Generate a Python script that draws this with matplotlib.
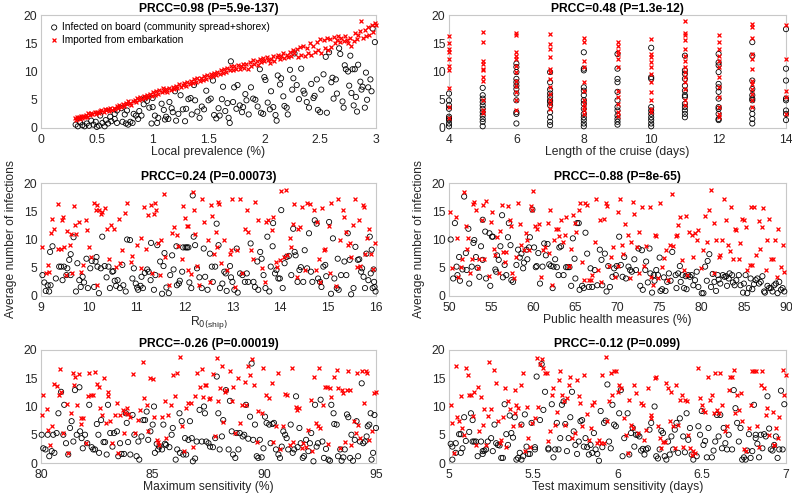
import numpy as np
import matplotlib.pyplot as plt

plt.rcParams['font.family'] = ['Liberation Sans', 'DejaVu Sans']

# ---- data (x, average number of infections) ----
# panel 1: local prevalence (%)
prev_board = np.array([
    (0.31, 0.6), (0.33, 0.3), (0.35, 1.0), (0.37, 0.5), (0.39, 0.3), (0.41, 0.8), (0.43, 0.4), (0.45, 1.3),
    (0.47, 0.6), (0.49, 1.1), (0.50, 0.2), (0.52, 0.4), (0.53, 2.2), (0.55, 0.9), (0.57, 0.3), (0.58, 1.4),
    (0.60, 0.8), (0.62, 2.0), (0.63, 1.2), (0.66, 2.5), (0.66, 1.6), (0.68, 0.9), (0.68, 3.1), (0.72, 3.5),
    (0.73, 1.1), (0.75, 2.4), (0.76, 0.8), (0.77, 3.1), (0.78, 0.6), (0.80, 1.1), (0.82, 0.9), (0.83, 2.5),
    (0.85, 2.2), (0.87, 1.6), (0.88, 3.0), (0.90, 2.2), (0.92, 4.2), (0.93, 5.2), (0.95, 4.8), (0.97, 3.6),
    (0.99, 0.8), (1.00, 5.3), (1.00, 3.7), (1.02, 2.2), (1.04, 0.9), (1.05, 1.8), (1.08, 4.3), (1.10, 3.2),
    (1.11, 1.5), (1.12, 2.0), (1.14, 1.6), (1.15, 4.6), (1.17, 3.5), (1.18, 2.8), (1.20, 6.5), (1.21, 1.3),
    (1.23, 2.5), (1.25, 5.8), (1.27, 3.3), (1.29, 1.2), (1.30, 3.4), (1.32, 5.1), (1.34, 5.3), (1.35, 2.4),
    (1.37, 7.6), (1.38, 4.9), (1.40, 2.9), (1.42, 1.8), (1.44, 3.8), (1.46, 3.3), (1.48, 6.6), (1.50, 4.9),
    (1.52, 5.2), (1.54, 8.4), (1.55, 2.3), (1.57, 1.7), (1.59, 3.5), (1.60, 2.2), (1.62, 5.1), (1.63, 7.3),
    (1.65, 3.0), (1.67, 4.4), (1.68, 1.8), (1.69, 0.9), (1.70, 11.8), (1.72, 4.6), (1.73, 7.2), (1.75, 3.4),
    (1.76, 7.6), (1.78, 4.0), (1.80, 2.8), (1.81, 3.7), (1.83, 6.0), (1.84, 4.9), (1.86, 2.4), (1.88, 7.2),
    (1.90, 5.2), (1.92, 5.0), (1.94, 3.8), (1.96, 10.4), (1.97, 2.7), (1.99, 2.5), (2.00, 9.0), (2.01, 8.5),
    (2.03, 4.5), (2.05, 3.3), (2.06, 6.5), (2.08, 3.7), (2.10, 2.3), (2.11, 1.3), (2.12, 9.3), (2.14, 7.7),
    (2.15, 8.8), (2.17, 5.6), (2.18, 3.9), (2.20, 3.6), (2.21, 2.4), (2.23, 10.3), (2.25, 6.8), (2.26, 8.8),
    (2.27, 13.2), (2.29, 7.6), (2.31, 5.1), (2.33, 10.5), (2.35, 6.6), (2.36, 6.1), (2.38, 4.6), (2.40, 3.6),
    (2.42, 7.8), (2.44, 5.3), (2.45, 5.7), (2.47, 8.6), (2.48, 3.2), (2.50, 2.8), (2.51, 6.8), (2.53, 9.5),
    (2.55, 12.6), (2.56, 2.7), (2.58, 13.4), (2.60, 8.1), (2.61, 8.9), (2.62, 5.2), (2.64, 8.6), (2.65, 6.1),
    (2.67, 14.1), (2.68, 13.1), (2.70, 4.7), (2.71, 3.6), (2.72, 11.1), (2.73, 10.4), (2.75, 10.0), (2.76, 7.5),
    (2.77, 12.8), (2.78, 6.2), (2.79, 10.4), (2.80, 4.0), (2.81, 10.4), (2.82, 5.5), (2.83, 2.9), (2.84, 11.2),
    (2.86, 8.2), (2.87, 6.8), (2.88, 7.3), (2.90, 3.6), (2.91, 9.8), (2.92, 5.0), (2.93, 7.2), (2.95, 8.6),
    (2.96, 6.5), (2.97, 17.6), (2.99, 15.2),
])
prev_imported = np.array([
    (0.30, 1.8), (0.31, 1.5), (0.32, 2.0), (0.33, 1.7), (0.34, 1.9), (0.35, 1.6), (0.36, 2.1), (0.37, 1.8),
    (0.38, 2.2), (0.39, 1.9), (0.40, 2.3), (0.41, 2.0), (0.42, 2.6), (0.44, 2.3), (0.45, 2.7), (0.46, 2.5),
    (0.48, 2.8), (0.49, 2.4), (0.50, 2.9), (0.52, 2.6), (0.53, 3.0), (0.54, 3.2), (0.56, 2.9), (0.57, 3.3),
    (0.58, 3.1), (0.60, 3.4), (0.61, 3.0), (0.62, 3.5), (0.64, 3.2), (0.65, 3.6), (0.66, 3.3), (0.68, 3.9),
    (0.69, 3.6), (0.70, 4.1), (0.72, 3.8), (0.73, 4.3), (0.74, 3.9), (0.76, 4.5), (0.77, 4.2), (0.78, 4.8),
    (0.80, 4.4), (0.81, 4.1), (0.82, 4.7), (0.84, 5.0), (0.85, 4.6), (0.86, 5.3), (0.88, 4.9), (0.89, 5.5),
    (0.90, 5.1), (0.92, 5.7), (0.93, 5.3), (0.95, 5.9), (0.96, 5.5), (0.98, 6.1), (0.99, 5.6), (1.00, 6.3),
    (1.02, 5.9), (1.03, 6.5), (1.05, 6.1), (1.06, 6.8), (1.08, 6.3), (1.09, 7.0), (1.10, 6.5), (1.12, 6.9),
    (1.13, 6.4), (1.15, 7.1), (1.16, 6.7), (1.18, 7.3), (1.19, 6.9), (1.21, 7.4), (1.22, 7.0), (1.24, 7.8),
    (1.25, 7.3), (1.27, 7.6), (1.28, 7.9), (1.30, 7.4), (1.31, 8.2), (1.33, 7.8), (1.34, 8.4), (1.36, 8.0),
    (1.37, 8.6), (1.39, 8.1), (1.40, 8.8), (1.42, 8.3), (1.43, 8.9), (1.45, 8.5), (1.46, 9.2), (1.48, 8.7),
    (1.49, 9.4), (1.51, 9.0), (1.52, 9.6), (1.54, 9.2), (1.55, 9.8), (1.57, 9.4), (1.58, 10.0), (1.60, 9.6),
    (1.61, 10.3), (1.63, 9.7), (1.64, 10.5), (1.66, 10.0), (1.67, 10.7), (1.69, 10.2), (1.70, 10.9), (1.72, 10.3),
    (1.73, 11.0), (1.75, 10.5), (1.76, 11.2), (1.78, 10.4), (1.79, 10.9), (1.81, 11.4), (1.82, 10.7), (1.84, 11.3),
    (1.85, 10.5), (1.87, 11.6), (1.88, 11.0), (1.90, 12.0), (1.91, 11.4), (1.93, 11.9), (1.94, 11.2), (1.96, 12.2),
    (1.97, 11.6), (1.99, 12.4), (2.00, 11.8), (2.02, 12.6), (2.03, 12.0), (2.05, 11.5), (2.06, 12.3), (2.08, 12.8),
    (2.09, 11.9), (2.11, 12.5), (2.12, 13.0), (2.14, 12.2), (2.15, 12.7), (2.17, 13.3), (2.18, 12.4), (2.20, 13.0),
    (2.21, 12.6), (2.23, 13.5), (2.24, 12.8), (2.26, 13.8), (2.27, 13.2), (2.29, 14.0), (2.30, 12.5), (2.32, 14.3),
    (2.33, 13.0), (2.35, 14.6), (2.36, 12.8), (2.38, 14.2), (2.39, 13.2), (2.41, 15.0), (2.42, 12.9), (2.44, 14.5),
    (2.45, 13.4), (2.47, 15.2), (2.48, 13.8), (2.50, 15.8), (2.51, 13.3), (2.53, 15.5), (2.54, 14.1), (2.56, 16.0),
    (2.57, 13.8), (2.59, 15.7), (2.60, 14.4), (2.62, 16.1), (2.63, 15.0), (2.65, 15.6), (2.66, 16.3), (2.68, 15.2),
    (2.69, 15.9), (2.71, 15.4), (2.72, 16.2), (2.74, 15.5), (2.75, 15.0), (2.77, 16.0), (2.78, 14.6), (2.80, 15.4),
    (2.81, 16.8), (2.83, 15.8), (2.84, 16.5), (2.86, 17.2), (2.87, 18.9), (2.88, 15.9), (2.90, 17.4), (2.91, 16.2),
    (2.93, 17.9), (2.94, 16.5), (2.96, 18.3), (2.97, 17.0), (2.99, 18.5), (3.00, 18.2),
])

# panel 2: length of the cruise (days)
cruise_board = np.array([
    (4, 6.1), (4, 4.9), (4, 4.0), (4, 3.4), (4, 2.0), (4, 1.7), (4, 1.4), (4, 0.8), (4, 0.3),
    (5, 7.1), (5, 5.8), (5, 5.2), (5, 4.6), (5, 4.0), (5, 3.4), (5, 2.8), (5, 2.2), (5, 1.6), (5, 1.1), (5, 0.3),
    (6, 11.4), (6, 10.8), (6, 9.9), (6, 8.7), (6, 8.1), (6, 7.5), (6, 6.9), (6, 6.1), (6, 4.9), (6, 2.8), (6, 2.5), (6, 0.8),
    (7, 9.9), (7, 8.1), (7, 6.8), (7, 6.1), (7, 5.5), (7, 4.9), (7, 4.6), (7, 4.0), (7, 2.8), (7, 1.9), (7, 1.1), (7, 0.5),
    (8, 13.4), (8, 10.5), (8, 10.2), (8, 7.2), (8, 6.6), (8, 5.8), (8, 4.9), (8, 4.3), (8, 3.4), (8, 2.5), (8, 1.9),
    (8, 1.4), (8, 0.8), (8, 0.3),
    (9, 13.1), (9, 10.5), (9, 8.7), (9, 8.1), (9, 6.4), (9, 4.9), (9, 3.7), (9, 3.1), (9, 2.2), (9, 1.6), (9, 1.1), (9, 0.6),
    (10, 14.2), (10, 9.0), (10, 8.7), (10, 3.7), (10, 3.1), (10, 2.5), (10, 1.9), (10, 1.4), (10, 0.8), (10, 0.3),
    (11, 12.8), (11, 10.2), (11, 9.6), (11, 8.7), (11, 7.5), (11, 6.6), (11, 5.8), (11, 5.5), (11, 4.3), (11, 3.7),
    (11, 3.1), (11, 2.5), (11, 1.9),
    (12, 13.1), (12, 11.6), (12, 11.1), (12, 9.9), (12, 7.8), (12, 7.2), (12, 6.4), (12, 5.2), (12, 3.7), (12, 3.4),
    (12, 2.5), (12, 1.6), (12, 1.4),
    (13, 15.2), (13, 12.8), (13, 8.4), (13, 6.9), (13, 5.8), (13, 5.2), (13, 4.9), (13, 3.4), (13, 2.5), (13, 1.6), (13, 0.8),
    (14, 17.5), (14, 10.5), (14, 8.4), (14, 5.2), (14, 4.9), (14, 3.1), (14, 2.5), (14, 1.4),
])
cruise_imported = np.array([
    (4, 16.2), (4, 15.0), (4, 14.0), (4, 13.4), (4, 12.2), (4, 11.0), (4, 10.2), (4, 7.1), (4, 3.8), (4, 1.8),
    (5, 17.0), (5, 15.2), (5, 11.8), (5, 11.4), (5, 10.5), (5, 10.2), (5, 9.0), (5, 8.4), (5, 4.9), (5, 3.1), (5, 2.6),
    (6, 16.8), (6, 16.5), (6, 13.4), (6, 12.8), (6, 12.2), (6, 11.0), (6, 9.9), (6, 8.4), (6, 7.5), (6, 6.4),
    (6, 4.9), (6, 3.1),
    (7, 16.6), (7, 14.9), (7, 14.0), (7, 12.5), (7, 10.5), (7, 9.9), (7, 8.7), (7, 7.2), (7, 6.1), (7, 4.9),
    (7, 4.3), (7, 3.4),
    (8, 15.9), (8, 15.2), (8, 11.9), (8, 10.8), (8, 8.1), (8, 6.6), (8, 4.9), (8, 4.3), (8, 3.7), (8, 3.1), (8, 2.5),
    (9, 15.2), (9, 14.6), (9, 13.7), (9, 13.1), (9, 12.2), (9, 10.8), (9, 6.6), (9, 5.5), (9, 4.3), (9, 2.8), (9, 2.2),
    (10, 15.8), (10, 13.1), (10, 12.5), (10, 11.6), (10, 10.8), (10, 9.6), (10, 8.1), (10, 6.4), (10, 4.9),
    (10, 3.4), (10, 2.8),
    (11, 18.9), (11, 16.9), (11, 16.4), (11, 15.5), (11, 14.0), (11, 12.8), (11, 11.9), (11, 10.8), (11, 9.9),
    (11, 9.0), (11, 8.1), (11, 6.9), (11, 4.9), (11, 4.0),
    (12, 16.4), (12, 15.2), (12, 14.0), (12, 12.8), (12, 11.9), (12, 10.8), (12, 9.0), (12, 7.2), (12, 5.5),
    (12, 3.7), (12, 2.5), (12, 1.9),
    (13, 18.4), (13, 17.8), (13, 15.9), (13, 13.1), (13, 12.2), (13, 10.5), (13, 8.4), (13, 7.8), (13, 6.9),
    (13, 6.1), (13, 4.9), (13, 3.7),
    (14, 18.3), (14, 12.2), (14, 6.6), (14, 5.5), (14, 2.5),
])

# panel 3: R0(ship)
r0_board = np.array([
    (9.03, 3.7), (9.07, 2.4), (9.10, 0.9), (9.14, 1.9), (9.17, 0.8), (9.20, 1.9), (9.19, 7.8), (9.24, 8.8),
    (9.31, 3.1), (9.38, 5.2), (9.42, 5.2), (9.45, 2.8), (9.48, 5.2), (9.53, 3.7), (9.55, 4.9), (9.59, 6.4),
    (9.62, 7.4), (9.62, 3.7), (9.68, 10.4), (9.73, 0.8), (9.76, 5.8), (9.80, 2.8), (9.83, 1.6), (9.87, 3.4),
    (9.90, 2.4), (9.95, 6.6), (9.98, 1.4), (10.03, 4.9), (10.06, 6.2), (10.11, 1.6), (10.14, 6.1), (10.16, 6.9),
    (10.18, 5.2), (10.21, 0.5), (10.25, 4.9), (10.28, 10.5), (10.33, 5.3), (10.37, 3.3), (10.41, 5.2), (10.44, 1.4),
    (10.49, 4.3), (10.51, 4.4), (10.54, 2.7), (10.57, 1.8), (10.60, 2.8), (10.65, 1.4), (10.70, 5.5), (10.72, 1.9),
    (10.77, 0.8), (10.80, 10.0), (10.86, 9.9), (10.91, 3.1), (10.94, 4.9), (10.98, 2.2), (11.01, 1.5), (11.03, 1.1),
    (11.08, 1.8), (11.10, 3.4), (11.13, 1.4), (11.17, 4.1), (11.22, 4.7), (11.25, 4.3), (11.29, 2.8), (11.30, 9.4),
    (11.36, 1.1), (11.39, 3.7), (11.43, 9.0), (11.49, 6.1), (11.53, 0.4), (11.56, 5.3), (11.58, 7.6), (11.62, 1.5),
    (11.67, 0.5), (11.70, 3.7), (11.74, 7.2), (11.77, 4.7), (11.83, 8.8), (11.84, 1.9), (11.88, 2.2), (11.90, 2.7),
    (11.95, 4.3), (11.97, 8.6), (12.02, 8.6), (12.05, 8.6), (12.08, 8.6), (12.10, 2.4), (12.14, 1.4), (12.17, 17.8),
    (12.19, 10.5), (12.22, 9.0), (12.26, 4.9), (12.31, 3.3), (12.36, 1.4), (12.40, 8.4), (12.43, 3.4), (12.48, 1.1),
    (12.53, 7.5), (12.57, 5.2), (12.59, 2.5), (12.64, 5.2), (12.67, 12.8), (12.71, 9.0), (12.74, 1.4), (12.79, 2.2),
    (12.83, 4.3), (12.86, 4.0), (12.88, 0.9), (12.95, 5.3), (12.97, 3.3), (13.00, 2.5), (13.04, 1.1), (13.09, 8.4),
    (13.11, 0.6), (13.16, 4.0), (13.21, 3.7), (13.26, 2.5), (13.30, 4.0), (13.33, 2.5), (13.38, 9.3), (13.44, 2.5),
    (13.47, 1.6), (13.52, 6.1), (13.54, 1.1), (13.58, 7.8), (13.61, 6.6), (13.65, 3.7), (13.69, 1.4), (13.73, 10.5),
    (13.77, 0.8), (13.80, 5.2), (13.84, 8.8), (13.85, 12.9), (13.89, 4.0), (13.92, 4.6), (13.96, 3.1), (13.99, 3.1),
    (14.02, 15.2), (14.05, 1.4), (14.09, 5.8), (14.13, 6.9), (14.18, 7.1), (14.23, 3.7), (14.27, 11.9), (14.30, 7.8),
    (14.32, 7.2), (14.36, 2.5), (14.40, 4.6), (14.43, 5.1), (14.48, 2.5), (14.51, 8.1), (14.56, 4.9), (14.60, 11.1),
    (14.64, 4.3), (14.67, 2.5), (14.72, 13.4), (14.76, 12.8), (14.79, 3.1), (14.83, 2.5), (14.86, 1.6), (14.90, 5.2),
    (14.94, 5.5), (14.96, 3.5), (15.02, 13.1), (15.06, 0.4), (15.10, 10.2), (15.13, 3.1), (15.18, 1.4), (15.20, 6.6),
    (15.22, 1.1), (15.27, 3.7), (15.34, 6.1), (15.38, 3.7), (15.41, 11.1), (15.45, 6.4), (15.48, 0.3), (15.53, 1.4),
    (15.57, 8.7), (15.62, 6.4), (15.65, 6.5), (15.69, 4.3), (15.71, 4.9), (15.74, 3.4), (15.77, 1.4), (15.80, 7.5),
    (15.84, 2.8), (15.87, 10.5), (15.89, 4.0), (15.93, 1.4), (15.91, 8.2), (15.95, 4.7), (15.97, 1.6), (15.99, 0.8),
    (15.96, 2.5),
])
r0_imported = np.array([
    (9.03, 8.6), (9.10, 4.0), (9.14, 5.5), (9.20, 11.1), (9.17, 4.3), (9.24, 13.7), (9.28, 11.9), (9.35, 8.4),
    (9.36, 16.2), (9.42, 8.4), (9.45, 14.0), (9.44, 13.4), (9.48, 8.6), (9.52, 3.7), (9.55, 11.5), (9.60, 9.0),
    (9.62, 10.9), (9.64, 4.1), (9.68, 16.0), (9.71, 12.5), (9.74, 10.9), (9.80, 13.1), (9.83, 4.3), (9.87, 5.5),
    (9.94, 13.4), (9.97, 11.6), (10.00, 8.7), (10.04, 6.9), (10.11, 16.4), (10.14, 15.3), (10.18, 16.1), (10.21, 15.2),
    (10.25, 14.6), (10.28, 14.9), (10.33, 15.5), (10.37, 11.9), (10.18, 1.9), (10.42, 6.6), (10.46, 12.5), (10.52, 11.8),
    (10.56, 5.2), (10.63, 13.7), (10.65, 5.8), (10.70, 8.1), (10.75, 14.7), (10.80, 16.5), (10.89, 6.1), (10.91, 7.1),
    (11.01, 9.0), (11.08, 10.2), (11.09, 4.9), (11.15, 15.8), (11.20, 8.4), (11.24, 14.3), (11.29, 16.1), (11.32, 4.0),
    (11.36, 14.6), (11.39, 16.4), (11.41, 15.3), (11.45, 9.4), (11.48, 3.7), (11.51, 10.0), (11.56, 18.0), (11.60, 6.9),
    (11.67, 1.9), (11.74, 11.1), (11.77, 12.2), (11.84, 10.8), (11.86, 8.8), (11.95, 6.6), (11.97, 15.9), (12.00, 13.8),
    (12.05, 12.4), (12.08, 12.4), (12.08, 4.6), (12.13, 3.9), (12.17, 18.4), (12.19, 15.3), (12.22, 10.9), (12.26, 5.3),
    (12.31, 1.9), (12.36, 17.1), (12.41, 13.1), (12.48, 10.0), (12.53, 2.5), (12.56, 16.1), (12.58, 14.1), (12.61, 7.4),
    (12.66, 11.4), (12.67, 8.7), (12.69, 16.6), (12.71, 16.2), (12.76, 5.8), (12.83, 9.9), (12.88, 4.6), (12.95, 7.5),
    (12.98, 8.1), (13.00, 17.2), (13.05, 1.6), (13.10, 8.2), (13.16, 17.2), (13.21, 4.0), (13.26, 11.9), (13.30, 15.2),
    (13.33, 11.4), (13.38, 8.1), (13.44, 6.6), (13.47, 16.6), (13.54, 13.5), (13.61, 4.9), (13.68, 2.5), (13.71, 13.1),
    (13.75, 13.5), (13.82, 11.6), (13.85, 14.0), (13.91, 6.1), (13.94, 5.2), (13.99, 6.4), (14.02, 18.6), (14.07, 6.9),
    (14.11, 18.8), (14.14, 7.2), (14.20, 10.2), (14.23, 8.7), (14.27, 12.8), (14.29, 16.2), (14.35, 3.3), (14.38, 11.9),
    (14.42, 12.2), (14.46, 15.8), (14.51, 4.6), (14.56, 16.4), (14.63, 16.2), (14.70, 15.3), (14.74, 4.6), (14.77, 13.1),
    (14.81, 6.5), (14.84, 2.5), (14.88, 15.5), (14.91, 8.1), (14.94, 8.4), (15.02, 12.4), (15.03, 4.0), (15.06, 16.4),
    (15.17, 1.8), (15.21, 17.1), (15.24, 10.0), (15.31, 15.3), (15.34, 14.0), (15.38, 11.4), (15.41, 9.0), (15.46, 9.3),
    (15.48, 6.9), (15.52, 12.5), (15.57, 17.2), (15.60, 5.2), (15.64, 13.4), (15.67, 5.3), (15.72, 16.1), (15.75, 15.8),
    (15.77, 7.5), (15.82, 10.3), (15.85, 11.9), (15.89, 7.4), (15.94, 4.7), (15.97, 9.4),
])

# panel 4: public health measures (%)
phm_board = np.array([
    (50.2, 10.0), (50.5, 3.1), (50.7, 12.9), (50.9, 5.2), (51.0, 3.7), (51.2, 6.9), (51.3, 2.7), (51.6, 4.7),
    (51.8, 17.6), (52.0, 7.6), (52.1, 4.6), (52.3, 11.9), (52.4, 2.2), (52.7, 5.2), (52.9, 9.4), (53.0, 9.9),
    (53.2, 6.9), (53.4, 5.0), (53.6, 3.4), (53.8, 8.8), (54.0, 13.5), (54.0, 6.4), (54.3, 11.4), (54.4, 3.1),
    (54.8, 11.1), (54.9, 1.8), (55.1, 10.5), (55.2, 10.5), (55.5, 4.7), (55.6, 4.3), (55.7, 7.2), (55.9, 6.4),
    (56.1, 8.8), (56.3, 14.3), (56.4, 3.3), (56.6, 5.5), (56.8, 3.7), (57.0, 10.4), (57.1, 12.9), (57.3, 9.0),
    (57.4, 2.8), (57.6, 2.5), (58.0, 5.5), (58.2, 8.2), (58.4, 6.8), (58.6, 7.5), (58.8, 4.9), (58.9, 5.9),
    (59.2, 8.2), (59.3, 6.5), (59.5, 8.6), (59.6, 10.4), (59.9, 15.3), (60.1, 8.6), (60.3, 5.1), (60.4, 5.3),
    (60.6, 7.6), (60.8, 2.2), (61.1, 5.2), (61.3, 9.3), (61.5, 7.2), (61.7, 9.2), (61.9, 5.6), (62.1, 5.3),
    (62.3, 1.4), (62.4, 5.2), (62.6, 6.5), (62.8, 5.1), (63.0, 3.7), (63.1, 8.6), (63.3, 8.8), (63.6, 3.7),
    (63.9, 5.1), (64.1, 5.1), (64.3, 5.1), (64.5, 1.8), (64.7, 10.2), (64.9, 6.6), (65.0, 3.1), (65.2, 12.9),
    (65.4, 12.9), (65.5, 1.1), (65.8, 1.8), (66.0, 1.4), (66.2, 11.2), (66.4, 7.5), (66.6, 1.6), (66.8, 4.9),
    (67.0, 1.6), (67.3, 4.6), (67.6, 1.9), (67.9, 8.2), (68.1, 6.4), (68.2, 1.9), (68.5, 7.5), (68.7, 0.8),
    (68.9, 5.3), (69.1, 1.6), (69.4, 3.4), (69.6, 4.9), (69.8, 3.7), (69.9, 5.3), (70.2, 10.5), (70.4, 5.5),
    (70.6, 3.4), (70.8, 6.9), (71.0, 3.1), (71.3, 5.2), (71.5, 4.6), (71.7, 4.3), (72.0, 6.5), (72.2, 4.6),
    (72.5, 8.4), (72.7, 1.8), (72.9, 8.1), (73.0, 1.1), (73.3, 4.6), (73.4, 6.1), (73.6, 2.4), (73.8, 8.4),
    (73.9, 4.0), (74.1, 0.6), (74.3, 3.7), (74.4, 2.7), (74.6, 4.6), (74.8, 3.7), (75.0, 6.8), (75.1, 0.9),
    (75.3, 1.2), (75.5, 3.3), (75.7, 0.9), (75.9, 2.5), (76.1, 4.0), (76.3, 2.7), (76.5, 7.8), (76.9, 3.7),
    (77.0, 1.4), (77.2, 4.0), (77.4, 5.3), (77.5, 2.5), (77.7, 3.7), (77.9, 1.4), (78.1, 3.5), (78.2, 1.2),
    (78.4, 3.7), (78.6, 3.4), (78.8, 3.7), (79.0, 1.9), (79.2, 2.8), (79.4, 4.3), (79.6, 1.6), (80.0, 0.5),
    (80.2, 0.5), (80.4, 5.2), (80.6, 2.7), (80.7, 6.2), (80.9, 7.4), (81.1, 1.6), (81.3, 3.9), (81.5, 2.5),
    (81.7, 0.9), (81.9, 3.7), (82.0, 2.9), (82.2, 2.2), (82.5, 3.7), (82.7, 3.4), (82.9, 3.5), (83.0, 1.8),
    (83.2, 3.1), (83.3, 4.0), (83.6, 3.7), (83.7, 2.4), (83.9, 1.9), (84.1, 2.8), (84.4, 3.7), (84.6, 1.9),
    (84.9, 0.6), (85.0, 2.2), (85.2, 3.7), (85.4, 0.5), (85.6, 1.4), (85.8, 3.1), (86.0, 1.2), (86.2, 2.1),
    (86.4, 2.8), (86.6, 3.1), (86.8, 2.2), (87.0, 2.5), (87.2, 3.5), (87.4, 0.8), (87.5, 0.6), (87.8, 1.8),
    (88.0, 1.4), (88.2, 1.4), (88.4, 0.8), (88.6, 1.9), (88.8, 2.2), (89.0, 0.5), (89.2, 2.5), (89.4, 1.1),
    (89.6, 1.4), (89.8, 0.8),
])
phm_imported = np.array([
    (50.1, 14.9), (50.4, 4.9), (50.8, 14.0), (50.9, 10.2), (51.1, 3.4), (51.4, 5.2), (51.6, 6.5), (51.8, 18.4),
    (52.0, 12.4), (52.1, 8.4), (52.3, 10.2), (52.5, 4.0), (52.7, 6.6), (52.9, 16.2), (53.0, 16.6), (53.2, 15.3),
    (53.4, 4.9), (53.6, 6.5), (53.9, 13.5), (54.0, 16.1), (54.2, 6.5), (54.4, 16.9), (54.7, 3.5), (55.0, 13.1),
    (55.1, 14.9), (55.3, 8.4), (55.5, 7.2), (55.7, 10.5), (55.9, 4.1), (56.1, 11.5), (56.3, 16.1), (56.4, 7.8),
    (56.6, 6.1), (56.8, 7.8), (57.0, 15.9), (57.2, 13.4), (57.3, 12.4), (57.5, 4.0), (57.7, 3.1), (58.0, 6.9),
    (58.2, 16.4), (58.4, 12.8), (58.6, 9.0), (58.9, 8.1), (59.1, 11.1), (59.3, 10.0), (59.5, 8.2), (59.7, 15.9),
    (59.8, 15.2), (60.0, 18.6), (60.2, 12.4), (60.4, 11.9), (60.7, 12.8), (60.9, 3.4), (61.2, 8.1), (61.4, 8.6),
    (61.7, 12.9), (61.9, 7.6), (62.0, 15.2), (62.2, 1.9), (62.5, 10.0), (62.7, 11.9), (62.9, 11.9), (63.1, 10.6),
    (63.3, 13.4), (63.5, 9.6), (63.8, 10.8), (63.9, 14.0), (64.2, 5.3), (64.3, 5.3), (64.5, 8.4), (64.7, 14.3),
    (65.0, 12.9), (65.1, 11.4), (65.4, 15.3), (65.6, 16.5), (65.8, 6.1), (66.0, 2.8), (66.2, 16.4), (66.4, 16.1),
    (66.6, 2.8), (66.8, 2.8), (67.0, 3.7), (67.3, 9.6), (67.5, 17.1), (67.7, 4.6), (67.9, 13.4), (68.1, 2.5),
    (68.4, 13.7), (68.6, 16.4), (68.8, 15.9), (69.0, 5.3), (69.2, 6.9), (69.5, 8.7), (69.7, 3.4), (70.0, 14.9),
    (70.1, 5.3), (70.3, 17.1), (70.5, 9.0), (70.7, 7.5), (70.9, 12.8), (71.2, 10.8), (71.5, 3.1), (71.6, 9.6),
    (71.8, 16.6), (72.0, 14.6), (72.3, 8.7), (72.5, 4.1), (72.6, 11.4), (72.9, 15.8), (73.2, 5.3), (73.4, 8.8),
    (73.8, 15.8), (74.0, 3.4), (74.2, 1.9), (74.5, 10.8), (74.6, 10.6), (74.8, 3.1), (75.0, 16.4), (75.3, 5.2),
    (75.5, 6.8), (75.7, 8.2), (76.0, 2.8), (76.2, 9.0), (76.5, 18.1), (76.6, 8.8), (77.0, 10.6), (77.1, 10.8),
    (77.2, 12.5), (77.4, 14.0), (77.6, 6.4), (77.9, 4.6), (78.1, 14.1), (78.3, 3.7), (78.5, 11.4), (78.8, 10.8),
    (79.0, 6.9), (79.2, 11.2), (79.4, 10.0), (79.6, 11.6), (79.9, 4.9), (80.2, 8.1), (80.4, 14.1), (80.6, 9.6),
    (80.9, 15.3), (81.1, 18.8), (81.4, 4.0), (81.5, 12.9), (81.7, 9.9), (82.0, 6.9), (82.2, 7.2), (82.4, 9.9),
    (82.7, 17.1), (82.9, 13.5), (83.1, 9.0), (83.3, 8.0), (83.5, 15.8), (83.7, 6.5), (83.9, 11.9), (84.1, 11.6),
    (84.4, 6.5), (84.5, 9.3), (84.8, 13.7), (85.0, 13.5), (85.2, 12.2), (85.4, 4.6), (85.7, 5.5), (85.8, 15.8),
    (86.0, 5.5), (86.2, 15.8), (86.4, 7.2), (86.8, 13.3), (86.9, 8.4), (87.1, 12.2), (87.3, 15.5), (87.6, 4.6),
    (87.8, 9.9), (88.0, 13.7), (88.2, 6.5), (88.4, 6.5), (88.7, 9.9), (88.9, 3.3), (89.1, 11.9), (89.4, 5.2),
    (89.6, 9.0), (89.8, 4.3),
])

# panel 5: maximum sensitivity (%)
sens_board = np.array([
    (80.03, 5.0), (80.10, 2.6), (80.20, 2.4), (80.30, 5.0), (80.37, 1.2), (80.48, 2.1), (80.55, 5.0), (80.60, 1.8),
    (80.70, 5.3), (80.78, 8.8), (80.90, 12.6), (81.00, 5.0), (81.04, 10.3), (81.12, 3.5), (81.22, 1.5), (81.30, 6.2),
    (81.37, 7.4), (81.45, 3.8), (81.52, 12.9), (81.60, 5.0), (81.72, 13.4), (81.75, 5.6), (81.82, 4.4), (81.87, 2.6),
    (81.97, 5.0), (82.07, 3.5), (82.16, 10.3), (82.27, 2.8), (82.34, 2.4), (82.42, 2.4), (82.50, 6.9), (82.57, 5.0),
    (82.60, 1.8), (82.69, 7.6), (82.80, 3.7), (82.87, 3.7), (82.94, 1.5), (83.00, 10.3), (83.10, 5.3), (83.20, 2.9),
    (83.27, 5.3), (83.40, 5.6), (83.46, 1.2), (83.54, 3.5), (83.60, 1.6), (83.72, 1.6), (83.80, 8.8), (83.84, 7.1),
    (83.90, 3.7), (84.00, 1.5), (84.10, 8.5), (84.18, 5.0), (84.28, 1.2), (84.36, 3.8), (84.40, 0.6), (84.50, 4.7),
    (84.58, 7.6), (84.66, 7.6), (84.73, 9.1), (84.80, 4.1), (84.90, 5.6), (85.00, 6.8), (85.06, 10.0), (85.10, 1.8),
    (85.18, 3.4), (85.25, 2.4), (85.30, 2.9), (85.42, 2.4), (85.48, 6.8), (85.55, 3.4), (85.60, 3.2), (85.75, 2.8),
    (85.85, 5.0), (85.90, 6.2), (86.03, 0.6), (86.10, 2.4), (86.20, 8.8), (86.22, 1.8), (86.30, 7.4), (86.37, 1.5),
    (86.45, 4.4), (86.50, 1.5), (86.60, 4.1), (86.67, 7.4), (86.75, 4.4), (86.80, 0.3), (86.90, 0.8), (86.97, 3.8),
    (87.10, 9.4), (87.20, 3.8), (87.30, 10.0), (87.34, 8.8), (87.40, 3.8), (87.50, 3.5), (87.57, 2.9), (87.70, 2.8),
    (87.80, 4.4), (87.87, 15.3), (87.94, 8.8), (88.00, 2.4), (88.10, 4.7), (88.16, 7.6), (88.28, 12.9), (88.40, 2.4),
    (88.46, 11.0), (88.54, 5.6), (88.60, 1.5), (88.70, 0.9), (88.76, 5.3), (88.84, 2.4), (88.90, 5.3), (89.03, 4.7),
    (89.10, 5.0), (89.18, 10.3), (89.28, 4.3), (89.36, 8.2), (89.43, 17.6), (89.50, 4.1), (89.58, 6.8), (89.66, 1.2),
    (89.73, 0.9), (89.80, 4.1), (89.88, 1.0), (89.96, 2.6), (90.03, 8.2), (90.10, 7.1), (90.22, 6.8), (90.28, 3.5),
    (90.37, 6.9), (90.43, 7.1), (90.52, 2.4), (90.63, 1.5), (90.70, 0.9), (90.78, 2.9), (90.85, 5.6), (90.93, 5.0),
    (91.00, 4.4), (91.07, 2.4), (91.18, 6.8), (91.27, 1.8), (91.34, 2.4), (91.42, 11.8), (91.49, 2.8), (91.57, 6.2),
    (91.63, 3.5), (91.72, 0.9), (91.78, 1.2), (91.87, 4.1), (91.97, 2.1), (92.04, 3.5), (92.10, 5.3), (92.20, 0.3),
    (92.27, 10.3), (92.34, 2.9), (92.40, 3.5), (92.52, 11.2), (92.60, 3.8), (92.67, 0.9), (92.76, 2.5), (92.87, 0.6),
    (92.94, 0.4), (93.00, 10.3), (93.10, 8.8), (93.13, 6.9), (93.24, 6.8), (93.30, 1.2), (93.40, 2.4), (93.46, 0.4),
    (93.54, 1.0), (93.60, 2.4), (93.70, 8.6), (93.76, 8.1), (93.84, 0.9), (93.90, 5.0), (93.97, 0.4), (94.05, 4.1),
    (94.13, 7.4), (94.20, 1.2), (94.28, 3.8), (94.36, 14.1), (94.43, 3.5), (94.50, 3.8), (94.58, 4.7), (94.63, 6.5),
    (94.70, 6.8), (94.76, 8.8), (94.80, 0.6), (94.87, 1.8), (94.93, 8.5), (95.00, 6.2),
])
sens_imported = np.array([
    (80.03, 8.5), (80.10, 12.1), (80.25, 9.6), (80.30, 5.9), (80.40, 3.1), (80.50, 6.5), (80.60, 13.9), (80.70, 13.7),
    (80.80, 12.1), (80.85, 16.6), (80.90, 12.6), (81.00, 5.3), (81.15, 10.4), (81.20, 1.8), (81.33, 8.8), (81.42, 15.9),
    (81.48, 13.8), (81.52, 15.3), (81.60, 10.2), (81.70, 15.7), (81.78, 6.9), (81.80, 7.9), (81.90, 7.9), (82.00, 3.5),
    (82.10, 11.8), (82.16, 15.9), (82.22, 12.1), (82.34, 12.1), (82.40, 16.1), (82.50, 13.9), (82.60, 13.5), (82.64, 9.7),
    (82.72, 8.5), (82.84, 15.1), (82.90, 7.1), (83.00, 12.6), (83.02, 11.9), (83.10, 7.4), (83.20, 3.5), (83.30, 8.5),
    (83.40, 10.6), (83.46, 1.8), (83.54, 8.5), (83.66, 9.4), (83.72, 5.3), (83.76, 8.8), (83.84, 9.7), (83.90, 8.6),
    (84.00, 8.2), (84.10, 15.7), (84.20, 5.3), (84.36, 7.6), (84.43, 9.4), (84.55, 17.8), (84.60, 11.5), (84.73, 10.3),
    (84.80, 5.6), (84.90, 15.1), (85.00, 14.9), (85.06, 8.2), (85.18, 4.1), (85.25, 3.8), (85.30, 3.2), (85.40, 8.2),
    (85.55, 10.9), (85.60, 4.4), (85.70, 8.5), (85.80, 10.2), (85.93, 15.6), (86.00, 11.8), (86.07, 15.9), (86.22, 18.8),
    (86.30, 6.5), (86.40, 2.2), (86.50, 9.7), (86.60, 10.6), (86.70, 10.6), (86.80, 2.8), (86.90, 11.8), (86.97, 15.9),
    (87.10, 13.5), (87.20, 16.6), (87.27, 11.6), (87.34, 13.8), (87.40, 13.8), (87.50, 11.4), (87.57, 11.5), (87.70, 15.7),
    (87.80, 4.7), (87.87, 18.5), (87.94, 10.9), (88.00, 13.2), (88.10, 17.1), (88.16, 7.2), (88.24, 12.6), (88.30, 12.9),
    (88.46, 16.3), (88.54, 10.9), (88.60, 13.5), (88.70, 5.3), (88.84, 15.0), (88.90, 7.1), (89.00, 10.3), (89.13, 14.4),
    (89.20, 10.3), (89.28, 17.1), (89.36, 15.6), (89.43, 18.4), (89.54, 13.8), (89.66, 3.8), (89.73, 9.2), (89.88, 8.8),
    (89.96, 16.9), (90.07, 12.1), (90.20, 11.5), (90.33, 14.1), (90.40, 3.8), (90.50, 6.5), (90.63, 15.9), (90.70, 2.4),
    (90.82, 6.6), (90.93, 12.2), (91.03, 12.1), (91.15, 3.2), (91.22, 16.8), (91.30, 3.8), (91.42, 10.0), (91.48, 9.4),
    (91.57, 9.7), (91.67, 2.6), (91.75, 3.5), (91.87, 2.9), (91.97, 5.9), (92.07, 11.2), (92.15, 2.1), (92.22, 15.3),
    (92.30, 7.1), (92.40, 6.5), (92.46, 16.9), (92.50, 6.2), (92.64, 10.3), (92.70, 13.5), (92.80, 13.5), (92.87, 3.4),
    (92.94, 13.2), (93.00, 11.6), (93.10, 15.3), (93.24, 16.5), (93.30, 13.2), (93.40, 2.6), (93.46, 12.9), (93.54, 12.4),
    (93.60, 3.8), (93.70, 12.9), (93.76, 16.2), (93.84, 12.9), (93.90, 3.2), (94.00, 7.4), (94.10, 5.3), (94.16, 15.9),
    (94.20, 6.8), (94.28, 4.5), (94.36, 16.2), (94.46, 10.6), (94.55, 16.2), (94.60, 15.9), (94.70, 4.1), (94.80, 5.6),
    (94.90, 12.4), (95.00, 12.6),
])

# panel 6: test maximum sensitivity (days)
tms_board = np.array([
    (5.01, 3.4), (5.02, 2.9), (5.02, 0.6), (5.04, 1.8), (5.04, 3.5), (5.06, 5.1), (5.07, 5.1), (5.07, 1.8),
    (5.08, 2.6), (5.09, 8.1), (5.10, 3.9), (5.12, 5.5), (5.13, 8.8), (5.14, 7.6), (5.14, 3.8), (5.15, 3.8),
    (5.16, 3.8), (5.17, 1.2), (5.19, 3.8), (5.20, 1.6), (5.20, 2.1), (5.21, 2.2), (5.22, 2.4), (5.23, 3.8),
    (5.25, 4.4), (5.26, 2.1), (5.27, 6.8), (5.28, 3.5), (5.29, 3.2), (5.30, 3.1), (5.31, 0.9), (5.32, 0.9),
    (5.33, 10.4), (5.34, 5.1), (5.35, 3.2), (5.36, 8.4), (5.37, 5.3), (5.38, 4.5), (5.39, 8.1), (5.40, 0.6),
    (5.41, 0.9), (5.42, 1.8), (5.43, 0.6), (5.43, 6.8), (5.44, 1.2), (5.45, 8.6), (5.46, 2.9), (5.47, 1.6),
    (5.48, 1.6), (5.49, 7.1), (5.51, 2.4), (5.51, 2.8), (5.52, 15.3), (5.54, 7.6), (5.55, 17.5), (5.56, 9.4),
    (5.57, 12.6), (5.59, 2.4), (5.59, 2.6), (5.61, 10.4), (5.62, 1.0), (5.63, 2.4), (5.64, 7.1), (5.65, 2.4),
    (5.66, 4.4), (5.67, 10.3), (5.68, 10.9), (5.69, 6.9), (5.70, 2.1), (5.71, 4.4), (5.72, 8.1), (5.73, 12.6),
    (5.74, 5.6), (5.75, 3.2), (5.76, 1.6), (5.77, 3.8), (5.78, 7.4), (5.79, 7.6), (5.80, 2.9), (5.81, 4.4),
    (5.82, 2.8), (5.83, 1.5), (5.84, 3.2), (5.85, 1.8), (5.86, 5.3), (5.87, 2.4), (5.88, 1.6), (5.89, 0.4),
    (5.90, 9.2), (5.91, 2.8), (5.92, 7.1), (5.93, 7.5), (5.94, 13.9), (5.95, 3.8), (5.96, 2.6), (5.97, 10.3),
    (5.98, 6.8), (5.99, 6.5), (6.01, 8.8), (6.02, 12.9), (6.03, 1.2), (6.04, 4.4), (6.06, 8.8), (6.07, 1.5),
    (6.08, 5.3), (6.09, 6.2), (6.10, 2.9), (6.11, 5.0), (6.12, 5.0), (6.13, 4.7), (6.14, 2.2), (6.15, 2.5),
    (6.16, 1.5), (6.17, 2.4), (6.18, 2.6), (6.19, 5.9), (6.20, 7.1), (6.22, 10.0), (6.23, 1.2), (6.24, 0.8),
    (6.25, 2.4), (6.26, 5.7), (6.27, 5.3), (6.28, 1.2), (6.29, 0.6), (6.30, 3.8), (6.31, 1.5), (6.32, 4.7),
    (6.33, 2.4), (6.34, 5.9), (6.35, 7.1), (6.36, 1.8), (6.37, 7.9), (6.39, 4.7), (6.40, 1.9), (6.41, 8.8),
    (6.42, 4.1), (6.43, 6.2), (6.44, 1.5), (6.45, 0.6), (6.47, 1.2), (6.48, 6.5), (6.49, 5.0), (6.50, 9.2),
    (6.51, 3.2), (6.52, 3.9), (6.53, 1.0), (6.54, 6.2), (6.56, 1.0), (6.57, 2.2), (6.58, 3.8), (6.59, 8.5),
    (6.60, 4.7), (6.61, 8.5), (6.62, 2.6), (6.63, 6.2), (6.64, 3.5), (6.65, 2.4), (6.66, 5.0), (6.68, 2.4),
    (6.69, 12.9), (6.70, 9.7), (6.71, 7.1), (6.72, 3.8), (6.73, 6.2), (6.74, 0.6), (6.75, 1.0), (6.76, 0.6),
    (6.77, 2.2), (6.78, 5.1), (6.79, 0.9), (6.80, 2.1), (6.81, 10.3), (6.82, 5.0), (6.82, 4.4), (6.83, 3.4),
    (6.84, 1.0), (6.85, 5.0), (6.86, 2.6), (6.87, 5.1), (6.88, 4.7), (6.89, 11.8), (6.90, 6.1), (6.91, 2.4),
    (6.92, 2.2), (6.93, 3.2), (6.94, 4.7), (6.95, 0.9), (6.96, 2.4), (6.97, 12.8), (6.98, 2.4), (6.99, 10.4),
])
tms_imported = np.array([
    (5.01, 10.3), (5.02, 7.1), (5.03, 1.8), (5.04, 17.1), (5.05, 8.2), (5.06, 7.4), (5.07, 11.8), (5.08, 6.2),
    (5.09, 5.0), (5.10, 16.9), (5.11, 15.6), (5.12, 12.1), (5.13, 12.1), (5.14, 8.4), (5.15, 12.6), (5.16, 3.2),
    (5.17, 13.5), (5.18, 5.6), (5.19, 11.6), (5.20, 6.8), (5.21, 9.6), (5.22, 3.2), (5.23, 8.4), (5.24, 17.9),
    (5.25, 9.6), (5.27, 16.5), (5.28, 14.1), (5.29, 7.5), (5.30, 3.5), (5.31, 4.1), (5.32, 8.1), (5.33, 13.2),
    (5.34, 2.9), (5.35, 11.0), (5.36, 9.6), (5.38, 6.5), (5.39, 8.8), (5.39, 12.9), (5.40, 10.3), (5.41, 9.7),
    (5.42, 6.8), (5.43, 13.8), (5.44, 15.9), (5.45, 2.1), (5.46, 10.0), (5.47, 4.4), (5.48, 2.8), (5.49, 7.1),
    (5.51, 7.9), (5.52, 18.5), (5.53, 10.0), (5.54, 17.5), (5.55, 18.4), (5.56, 16.8), (5.57, 15.9), (5.58, 15.9),
    (5.59, 3.9), (5.60, 5.6), (5.61, 12.1), (5.62, 13.2), (5.63, 6.8), (5.64, 9.1), (5.65, 14.7), (5.66, 16.2),
    (5.67, 12.1), (5.68, 10.9), (5.69, 6.8), (5.70, 11.5), (5.71, 13.8), (5.72, 15.3), (5.73, 4.4), (5.75, 5.3),
    (5.76, 14.7), (5.77, 11.8), (5.78, 10.6), (5.79, 6.5), (5.80, 15.6), (5.82, 8.6), (5.83, 4.1), (5.84, 6.2),
    (5.85, 10.3), (5.86, 10.8), (5.88, 3.5), (5.89, 4.1), (5.90, 3.5), (5.91, 15.6), (5.92, 3.5), (5.93, 18.8),
    (5.94, 7.4), (5.95, 11.0), (5.96, 15.9), (5.97, 12.1), (5.98, 16.2), (5.99, 16.2), (6.00, 12.6), (6.01, 13.8),
    (6.02, 13.2), (6.04, 7.9), (6.05, 5.0), (6.06, 1.8), (6.07, 11.2), (6.08, 6.8), (6.09, 6.2), (6.10, 13.8),
    (6.11, 12.4), (6.12, 5.3), (6.14, 10.6), (6.15, 10.3), (6.16, 4.1), (6.17, 5.9), (6.18, 13.2), (6.20, 7.9),
    (6.20, 8.5), (6.22, 15.0), (6.23, 15.3), (6.24, 6.5), (6.25, 4.4), (6.26, 2.6), (6.27, 3.8), (6.28, 3.8),
    (6.29, 14.1), (6.30, 13.2), (6.31, 7.4), (6.32, 12.6), (6.33, 6.5), (6.34, 2.6), (6.35, 13.8), (6.36, 6.8),
    (6.37, 11.2), (6.38, 12.1), (6.39, 2.8), (6.40, 11.2), (6.41, 10.9), (6.42, 5.0), (6.43, 2.6), (6.44, 1.5),
    (6.45, 2.1), (6.46, 1.8), (6.48, 16.8), (6.49, 11.5), (6.50, 10.3), (6.51, 9.4), (6.52, 9.1), (6.54, 15.3),
    (6.55, 11.2), (6.56, 12.1), (6.57, 8.8), (6.58, 15.9), (6.59, 9.4), (6.60, 8.8), (6.61, 15.9), (6.62, 10.3),
    (6.64, 5.6), (6.65, 6.5), (6.66, 12.9), (6.67, 15.3), (6.68, 15.3), (6.69, 16.5), (6.70, 8.8), (6.71, 12.1),
    (6.72, 9.4), (6.73, 12.4), (6.74, 7.4), (6.75, 2.4), (6.76, 2.1), (6.78, 6.2), (6.79, 10.3), (6.80, 16.2),
    (6.81, 16.2), (6.82, 16.2), (6.83, 6.5), (6.84, 2.9), (6.85, 13.8), (6.86, 16.2), (6.87, 13.2), (6.88, 8.5),
    (6.89, 9.7), (6.90, 5.0), (6.92, 9.0), (6.93, 3.2), (6.93, 3.2), (6.94, 6.2), (6.95, 4.4), (6.96, 8.2),
    (6.98, 16.5), (6.99, 12.1), (7.00, 15.6),
])

titles = ['PRCC=0.98 (P=5.9e-137)', 'PRCC=0.48 (P=1.3e-12)', 'PRCC=0.24 (P=0.00073)',
          'PRCC=-0.88 (P=8e-65)', 'PRCC=-0.26 (P=0.00019)', 'PRCC=-0.12 (P=0.099)']
xlabels = ['Local prevalence (%)', 'Length of the cruise (days)', r'R$_{0(\mathregular{ship})}$',
           'Public health measures (%)', 'Maximum sensitivity (%)', 'Test maximum sensitivity (days)']
xlims = [(0, 3), (4, 14), (9, 16), (50, 90), (80, 95), (5, 7)]
xticks = [[0, 0.5, 1, 1.5, 2, 2.5, 3], [4, 6, 8, 10, 12, 14], [9, 10, 11, 12, 13, 14, 15, 16],
          [50, 55, 60, 65, 70, 75, 80, 85, 90], [80, 85, 90, 95], [5, 5.5, 6, 6.5, 7]]
board = [prev_board, cruise_board, r0_board, phm_board, sens_board, tms_board]
imported = [prev_imported, cruise_imported, r0_imported, phm_imported, sens_imported, tms_imported]

W, H = 792, 496
fig = plt.figure(figsize=(W / 100, H / 100), dpi=100)
cols = [(41, 376), (449, 786)]
rows = [(15, 128), (183, 296), (350, 463)]
txt = '#262626'
fs = 8.7

for i in range(6):
    r, c = divmod(i, 2)
    x0, x1 = cols[c]
    y0, y1 = rows[r]
    ax = fig.add_axes([x0 / W, 1 - y1 / H, (x1 - x0) / W, (y1 - y0) / H])
    b, m = board[i], imported[i]
    ax.scatter(b[:, 0], b[:, 1], s=14, facecolors='none', edgecolors='black', linewidths=0.6,
               label='Infected on board (community spread+shorex)', clip_on=False, zorder=3)
    ax.scatter(m[:, 0], m[:, 1], s=8, marker='x', color='red', linewidths=0.9,
               label='Imported from embarkation', clip_on=False, zorder=4)
    ax.set_xlim(*xlims[i])
    ax.set_ylim(0, 20)
    ax.set_xticks(xticks[i])
    ax.set_xticklabels([f'{t:g}' for t in xticks[i]])
    ax.set_yticks([0, 5, 10, 15, 20])
    ax.tick_params(length=0, labelsize=fs, colors=txt)
    ax.tick_params(axis='x', pad=4)
    ax.tick_params(axis='y', pad=2.5)
    for s in ax.spines.values():
        s.set_color('#c8c8c8')
        s.set_linewidth(0.8)
    ax.set_title(titles[i], fontsize=fs, fontweight='bold', color='black', pad=2)
    ax.set_xlabel(xlabels[i], fontsize=fs, color=txt, labelpad=0)
    if r == 1:
        ax.set_ylabel('Average number of infections', fontsize=fs, color=txt, labelpad=5)
    if i == 0:
        ax.legend(loc='upper left', frameon=False, fontsize=7.3, handletextpad=0.2,
                  borderaxespad=0.3, labelspacing=0.3, handlelength=1.2, markerscale=1.0)

fig.savefig('out.png', dpi=100)
